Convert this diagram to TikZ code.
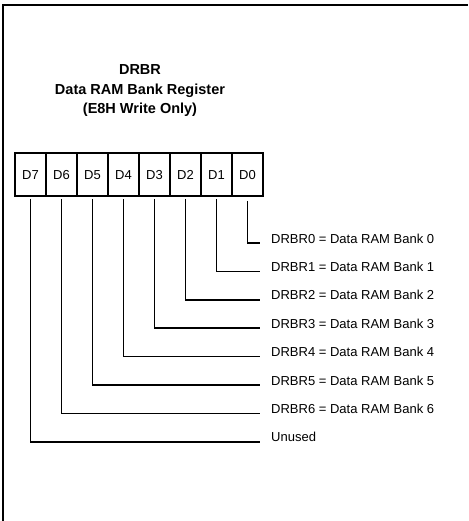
\documentclass[tikz,border=0pt]{standalone}
\usepackage{fontspec}
\setmainfont{Liberation Sans}
\usetikzlibrary{positioning}

\tikzset{
  cell/.style={draw, line width=1.4pt, minimum width=31pt, minimum height=43pt,
    inner sep=0pt, outer sep=0pt, text height=9.4pt, text depth=0pt,
    font=\fontsize{13}{15}\selectfont},
  bitlbl/.style={anchor=base west, inner sep=0pt, font=\fontsize{13}{15}\selectfont},
  wire/.style={line width=1.6pt}
}

\begin{document}
\begin{tikzpicture}[x=1pt, y=-1pt]
        \useasboundingbox (0,0) rectangle (468,521);
        % Frame
        \draw [line width=1.5pt] (3,521) -- (3,5) -- (468,5);

        % Title
        \node [align=center, font=\bfseries\fontsize{14.5}{19.5}\selectfont] (title) at (140,91)
          {DRBR\\Data RAM Bank Register\\(E8H Write Only)};

        % Register cells
        \node [cell] (d7) at (30.5,174.5) {D7};
        \node [cell, right=0pt of d7] (d6) {D6};
        \node [cell, right=0pt of d6] (d5) {D5};
        \node [cell, right=0pt of d5] (d4) {D4};
        \node [cell, right=0pt of d4] (d3) {D3};
        \node [cell, right=0pt of d3] (d2) {D2};
        \node [cell, right=0pt of d2] (d1) {D1};
        \node [cell, right=0pt of d1] (d0) {D0};

        % Bit meanings
        \node [bitlbl] (l0) at (271,243.0) {DRBR0 = Data RAM Bank 0};
        \node [bitlbl] (l1) at (271,271.4) {DRBR1 = Data RAM Bank 1};
        \node [bitlbl] (l2) at (271,299.8) {DRBR2 = Data RAM Bank 2};
        \node [bitlbl] (l3) at (271,328.2) {DRBR3 = Data RAM Bank 3};
        \node [bitlbl] (l4) at (271,356.6) {DRBR4 = Data RAM Bank 4};
        \node [bitlbl] (l5) at (271,385.0) {DRBR5 = Data RAM Bank 5};
        \node [bitlbl] (l6) at (271,413.4) {DRBR6 = Data RAM Bank 6};
        \node [bitlbl] (l7) at (271,441.8) {Unused};

        % Leaders
        \draw [wire] ([yshift=-5pt]d0.south) |- ([xshift=-11pt]l0.base west);
        \draw [wire] ([yshift=-3pt]d1.south) |- ([xshift=-11pt]l1.base west);
        \draw [wire] ([yshift=-3pt]d2.south) |- ([xshift=-11pt]l2.base west);
        \draw [wire] ([yshift=-3pt]d3.south) |- ([xshift=-11pt]l3.base west);
        \draw [wire] ([yshift=-3pt]d4.south) |- ([xshift=-11pt]l4.base west);
        \draw [wire] ([yshift=-3pt]d5.south) |- ([xshift=-11pt]l5.base west);
        \draw [wire] ([yshift=-3pt]d6.south) |- ([xshift=-11pt]l6.base west);
        \draw [wire] ([yshift=-3pt]d7.south) |- ([xshift=-11pt]l7.base west);
\end{tikzpicture}
\end{document}
